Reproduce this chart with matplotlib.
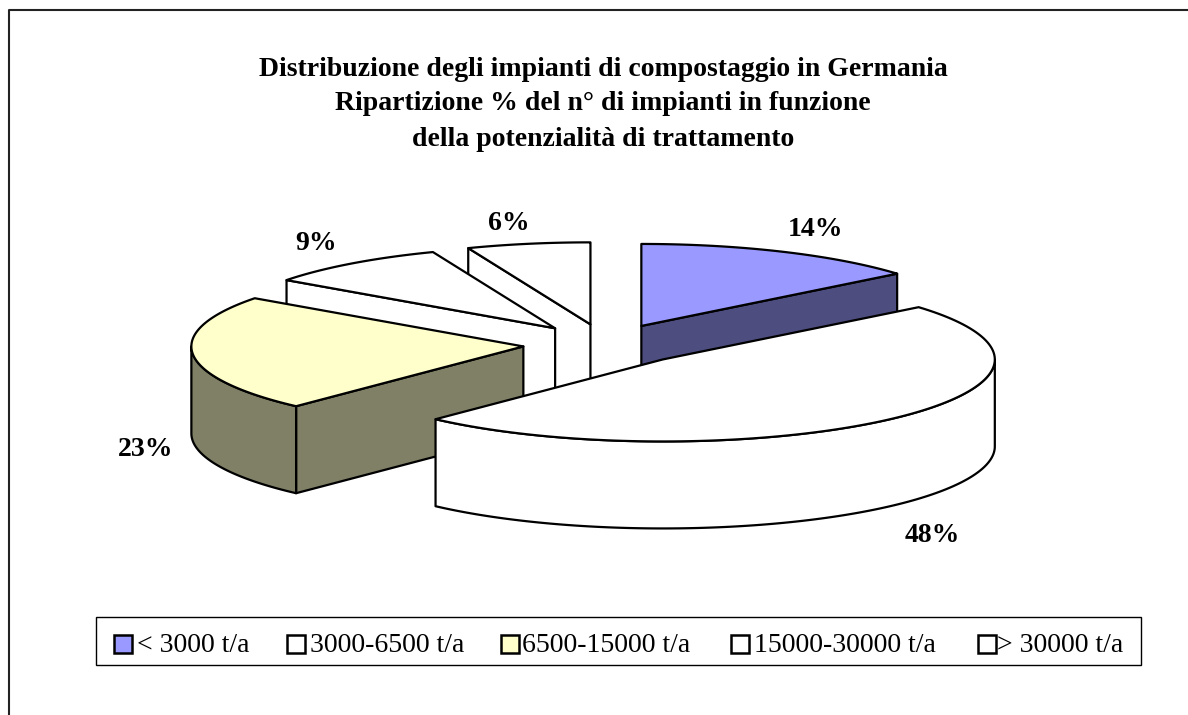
import numpy as np
import matplotlib
matplotlib.use("Agg")
import matplotlib.pyplot as plt
from matplotlib.patches import Polygon, Rectangle

plt.rcParams["font.family"] = ["Liberation Serif", "DejaVu Serif"]

# dati
categories = ["< 3000 t/a", "3000-6500 t/a", "6500-15000 t/a", "15000-30000 t/a", "> 30000 t/a"]
shares = [14, 48, 23, 9, 6]
top_colors = ["#9999FF", "#FFFFFF", "#FFFFCC", "#FFFFFF", "#FFFFFF"]
side_colors = ["#4D4D80", "#FFFFFF", "#808066", "#FFFFFF", "#FFFFFF"]
title_lines = [
    "Distribuzione degli impianti di compostaggio in Germania",
    "Ripartizione % del n° di impianti in funzione",
    "della potenzialità di trattamento",
]

# geometria della torta (pixel)
CX, CY = 606, 344.5
RX, RY = 332, 82
DEPTH = 87
EXPLODE = 0.25
LW = 1.6

fig = plt.figure(figsize=(11.88, 7.15), dpi=100)
ax = fig.add_axes([0, 0, 1, 1])
ax.set_xlim(0, 1188)
ax.set_ylim(715, 0)
ax.axis("off")


def ell(cx, cy, deg):
    t = np.radians(deg)
    return np.column_stack([cx + RX * np.sin(t), cy - RY * np.cos(t)])


def poly(pts, color, z):
    ax.add_patch(Polygon(pts, closed=True, facecolor=color, edgecolor="black",
                         linewidth=LW, joinstyle="round", zorder=z))


ends = np.cumsum(shares) * 3.6
starts = ends - np.array(shares) * 3.6

# ordine di disegno: dal fondo verso il davanti
order = [4, 3, 0, 2, 1]
for z, i in enumerate(order):
    a, b = starts[i], ends[i]
    mid = np.radians((a + b) / 2)
    cx = CX + EXPLODE * RX * np.sin(mid)
    cy = CY - EXPLODE * RY * np.cos(mid)
    apex = np.array([[cx, cy]])
    down = np.array([0, DEPTH])
    zz = z * 10 + 1

    # facce radiali visibili
    if np.sin(np.radians(a)) < -1e-6:
        edge = np.vstack([apex, ell(cx, cy, np.array([a]))])
        poly(np.vstack([edge, edge[::-1] + down]), side_colors[i], zz)
    if np.sin(np.radians(b)) > 1e-6:
        edge = np.vstack([apex, ell(cx, cy, np.array([b]))])
        poly(np.vstack([edge, edge[::-1] + down]), side_colors[i], zz)

    # parete esterna, solo la parte rivolta verso chi guarda
    lo, hi = max(a, 90), min(b, 270)
    if lo < hi:
        arc = ell(cx, cy, np.linspace(lo, hi, 120))
        poly(np.vstack([arc, arc[::-1] + down]), side_colors[i], zz + 1)

    # faccia superiore
    arc = ell(cx, cy, np.linspace(a, b, 120))
    poly(np.vstack([apex, arc]), top_colors[i], zz + 2)

# etichette percentuali
label_pos = [(816, 230), (932, 535), (146, 449), (316, 243), (509, 223)]
for s, (x, y) in zip(shares, label_pos):
    ax.text(x, y, f"{s}%", ha="center", va="center", fontsize=20,
            fontweight="bold", zorder=100)

# titolo
for line, y in zip(title_lines, [69, 104, 139]):
    ax.text(603, y, line, ha="center", va="center", fontsize=20,
            fontweight="bold", zorder=100)

# cornice esterna: manca il lato destro
ax.plot([9, 9, 1188], [715, 10, 10], color="#222222", lw=1.5, zorder=100)

# legenda
ax.add_patch(Rectangle((96, 617), 1045, 48, facecolor="white", edgecolor="black",
                       linewidth=1.0, zorder=100))
box_x = [114, 287, 501, 731, 978]
text_x = [137, 310, 522, 754, 997]
for name, color, bx, tx in zip(categories, top_colors, box_x, text_x):
    ax.add_patch(Rectangle((bx, 635), 18, 18, facecolor=color, edgecolor="black",
                           linewidth=1.8, zorder=101))
    ax.text(tx, 646, name, ha="left", va="center", fontsize=20, zorder=101)

fig.savefig("out.png", dpi=100)
